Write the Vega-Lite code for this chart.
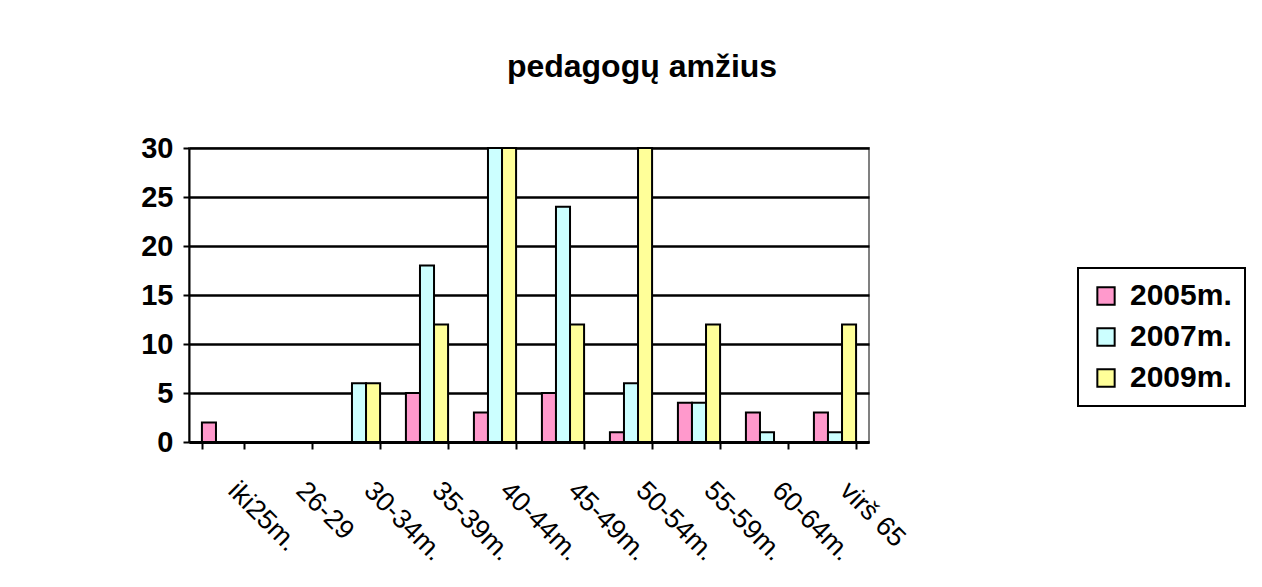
{
  "$schema": "https://vega.github.io/schema/vega-lite/v6.json",
  "autosize": "none",
  "width": 680,
  "height": 294,
  "padding": {"left": 189, "top": 148, "right": 393, "bottom": 145},
  "background": "white",
  "title": {
    "text": "pedagogų amžius",
    "font": "Liberation Sans",
    "fontSize": 32,
    "fontWeight": "bold",
    "color": "black",
    "anchor": "middle",
    "dx": 113,
    "offset": 50
  },
  "data": {
    "values": [
      {"amzius": "iki25m.", "metai": "2005m.", "n": 2},
      {"amzius": "iki25m.", "metai": "2007m.", "n": 0},
      {"amzius": "iki25m.", "metai": "2009m.", "n": 0},
      {"amzius": "26-29", "metai": "2005m.", "n": 0},
      {"amzius": "26-29", "metai": "2007m.", "n": 0},
      {"amzius": "26-29", "metai": "2009m.", "n": 0},
      {"amzius": "30-34m.", "metai": "2005m.", "n": 0},
      {"amzius": "30-34m.", "metai": "2007m.", "n": 6},
      {"amzius": "30-34m.", "metai": "2009m.", "n": 6},
      {"amzius": "35-39m.", "metai": "2005m.", "n": 5},
      {"amzius": "35-39m.", "metai": "2007m.", "n": 18},
      {"amzius": "35-39m.", "metai": "2009m.", "n": 12},
      {"amzius": "40-44m.", "metai": "2005m.", "n": 3},
      {"amzius": "40-44m.", "metai": "2007m.", "n": 30},
      {"amzius": "40-44m.", "metai": "2009m.", "n": 30},
      {"amzius": "45-49m.", "metai": "2005m.", "n": 5},
      {"amzius": "45-49m.", "metai": "2007m.", "n": 24},
      {"amzius": "45-49m.", "metai": "2009m.", "n": 12},
      {"amzius": "50-54m.", "metai": "2005m.", "n": 1},
      {"amzius": "50-54m.", "metai": "2007m.", "n": 6},
      {"amzius": "50-54m.", "metai": "2009m.", "n": 30},
      {"amzius": "55-59m.", "metai": "2005m.", "n": 4},
      {"amzius": "55-59m.", "metai": "2007m.", "n": 4},
      {"amzius": "55-59m.", "metai": "2009m.", "n": 12},
      {"amzius": "60-64m.", "metai": "2005m.", "n": 3},
      {"amzius": "60-64m.", "metai": "2007m.", "n": 1},
      {"amzius": "60-64m.", "metai": "2009m.", "n": 0},
      {"amzius": "virš 65", "metai": "2005m.", "n": 3},
      {"amzius": "virš 65", "metai": "2007m.", "n": 1},
      {"amzius": "virš 65", "metai": "2009m.", "n": 12}
    ]
  },
  "mark": {"type": "bar", "stroke": "black", "strokeWidth": 2},
  "encoding": {
    "x": {
      "field": "amzius",
      "type": "nominal",
      "sort": null,
      "title": null,
      "scale": {"paddingInner": 0.38, "paddingOuter": 0.19},
      "axis": {
        "labelAngle": 45,
        "labelAlign": "left",
        "labelBaseline": "top",
        "labelFont": "Liberation Sans",
        "labelFontSize": 27,
        "labelColor": "black",
        "labelPadding": 28,
        "labelOffset": 18,
        "tickBand": "extent",
        "tickSize": 7,
        "tickWidth": 2,
        "tickColor": "black",
        "domainColor": "black",
        "domainWidth": 3,
        "grid": false
      }
    },
    "xOffset": {"field": "metai", "type": "nominal", "scale": {"paddingInner": 0, "paddingOuter": 0}},
    "y": {
      "field": "n",
      "type": "quantitative",
      "title": null,
      "scale": {"domain": [0, 30], "nice": false},
      "axis": {
        "values": [0, 5, 10, 15, 20, 25, 30],
        "labelFont": "Liberation Sans",
        "labelFontSize": 29,
        "labelFontWeight": "bold",
        "labelColor": "black",
        "labelPadding": 10,
        "labelDy": 5,
        "tickSize": 6,
        "tickWidth": 2,
        "tickColor": "black",
        "domainColor": "black",
        "domainWidth": 2,
        "grid": true,
        "gridColor": "black",
        "gridWidth": 2.5,
        "gridOpacity": 1
      }
    },
    "color": {
      "field": "metai",
      "type": "nominal",
      "scale": {"domain": ["2005m.", "2007m.", "2009m."], "range": ["#FF99CC", "#CCFFFF", "#FFFF99"]},
      "legend": {
        "title": null,
        "orient": "none",
        "legendX": 889,
        "legendY": 120,
        "symbolType": "square",
        "symbolSize": 300,
        "symbolStrokeColor": "black",
        "symbolStrokeWidth": 2,
        "symbolOpacity": 1,
        "labelFont": "Liberation Sans",
        "labelFontSize": 30,
        "labelFontWeight": "bold",
        "labelColor": "black",
        "labelOffset": 9,
        "rowPadding": 11,
        "padding": 13,
        "strokeColor": "black",
        "fillColor": "white"
      }
    }
  },
  "config": {
    "view": {"stroke": "#808080", "strokeWidth": 2},
    "legend": {"strokeWidth": 2}
  }
}
